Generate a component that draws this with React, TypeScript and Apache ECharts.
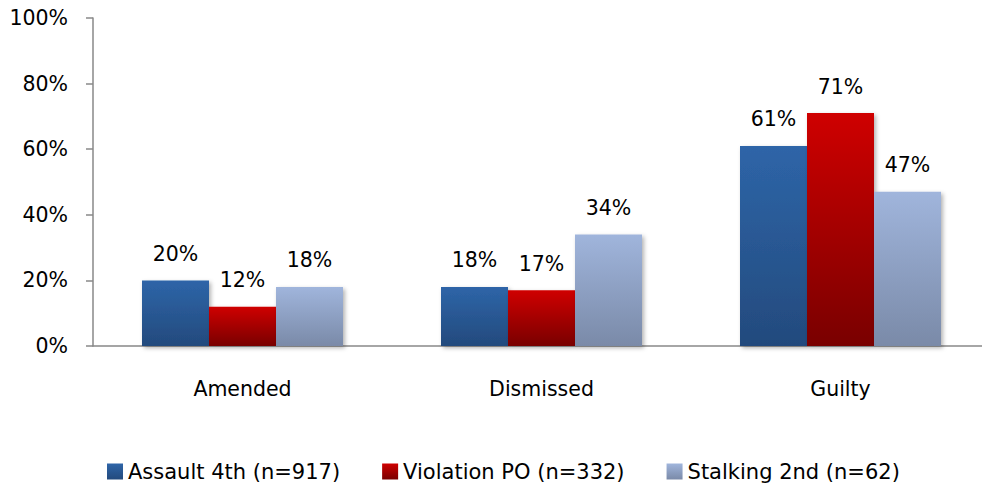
import React, { useEffect, useRef } from "react";
import * as echarts from "echarts";

const categories = ["Amended", "Dismissed", "Guilty"];
const seriesNames = ["Assault 4th (n=917)", "Violation PO (n=332)", "Stalking 2nd (n=62)"];
const assault = [20, 18, 61];
const violation = [12, 17, 71];
const stalking = [18, 34, 47];
const yTicks = [0, 20, 40, 60, 80, 100];

const FONT = "'DejaVu Sans', sans-serif";

const grad = (top: string, bottom: string) =>
  new echarts.graphic.LinearGradient(0, 0, 0, 1, [
    { offset: 0, color: top },
    { offset: 1, color: bottom },
  ]);

export default function App() {
  const ref = useRef<HTMLDivElement>(null);
  useEffect(() => {
    document.body.style.margin = "0";
    const chart = echarts.init(ref.current!, undefined, { renderer: "svg" });
    const colors = [
      ["#2e65a8", "#234a7d"],
      ["#cf0000", "#790000"],
      ["#a0b5dc", "#7a8aa8"],
    ];
    const data = [assault, violation, stalking];
    chart.setOption({
      animation: false,
      color: colors.map((c) => grad(c[0], c[1])),
      grid: { left: 93, top: 18, height: 328, width: 897 },
      legend: {
        data: seriesNames,
        left: 107,
        top: 461,
        padding: 0,
        icon: "rect",
        itemWidth: 16,
        itemHeight: 16,
        itemGap: 42,
        textStyle: { fontFamily: FONT, fontSize: 21, color: "#000", lineHeight: 16 },
      },
      xAxis: {
        type: "category",
        data: categories,
        axisLine: { lineStyle: { color: "#888", width: 1.5 } },
        axisTick: { length: 7, lineStyle: { color: "#888", width: 1.5 } },
        axisLabel: { fontFamily: FONT, fontSize: 20.5, color: "#000", margin: 32 },
      },
      yAxis: {
        type: "value",
        min: yTicks[0],
        max: yTicks[yTicks.length - 1],
        interval: 20,
        axisLine: { show: true, lineStyle: { color: "#888", width: 1.5 } },
        axisTick: { show: true, length: 7, lineStyle: { color: "#888", width: 1.5 } },
        splitLine: { show: false },
        axisLabel: {
          fontFamily: FONT,
          fontSize: 20.5,
          color: "#000",
          margin: 25,
          formatter: (v: number) => v + "%",
        },
      },
      series: data.map((d, i) => ({
        name: seriesNames[i],
        type: "bar",
        data: d,
        barWidth: 67,
        barGap: "0%",
        itemStyle: {
          color: grad(colors[i][0], colors[i][1]),
          shadowBlur: 4,
          shadowOffsetX: 2,
          shadowOffsetY: 2,
          shadowColor: "rgba(0,0,0,0.3)",
        },
        label: {
          show: true,
          position: "top",
          distance: 16,
          fontFamily: FONT,
          fontSize: 20.5,
          color: "#000",
          formatter: (p: any) => p.value + "%",
        },
      })),
    });
    return () => chart.dispose();
  }, []);
  return (
    <div style={{ width: 982, height: 485, overflow: "hidden", position: "relative" }}>
      <div ref={ref} style={{ width: 1000, height: 485 }} />
    </div>
  );
}
